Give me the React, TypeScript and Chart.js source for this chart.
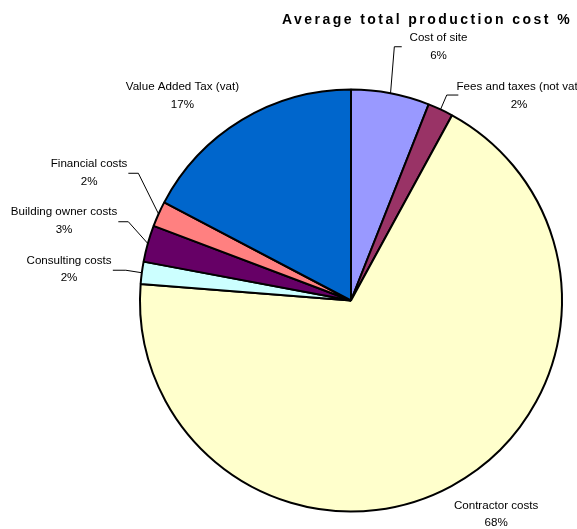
import React, { useEffect, useRef } from "react";
import { Chart, registerables } from "chart.js";

Chart.register(...registerables);

const chartTitle = "Average total production cost %";
const categories = [
  "Cost of site",
  "Fees and taxes (not vat)",
  "Contractor costs",
  "Consulting costs",
  "Building owner costs",
  "Financial costs",
  "Value Added Tax (vat)",
];
const shares = [6.0, 1.95, 68.3, 1.7, 2.8, 1.95, 17.3];
const sliceColors = [
  "#9999FF",
  "#993366",
  "#FFFFCC",
  "#CCFFFF",
  "#660066",
  "#FF8080",
  "#0066CC",
];

// label layout relative to the outer midpoint of each slice
const labelLayout: Array<{ dx: number; dy: number; leader?: [number, number, number] }> = [
  { dx: 48, dy: -55, leader: [3.8, -46.5, 7.4] },
  { dx: 78.5, dy: -22.7, leader: [6.2, -14.4, 11.6] },
  { dx: 44.6, dy: 19.6 },
  { dx: -72.8, dy: -12.4, leader: [-16, -2.5, -13] },
  { dx: -83.8, dy: -31.8, leader: [-19.5, -21.8, -10] },
  { dx: -69.5, dy: -49.7, leader: [-20.2, -40.7, -10] },
  { dx: -59.5, dy: -33.1 },
];

const labelPlugin = {
  id: "pieLabels",
  afterDraw(chart: any) {
    const ctx = chart.ctx as CanvasRenderingContext2D;
    const meta = chart.getDatasetMeta(0);
    const data = chart.data.datasets[0].data as number[];
    const total = data.reduce((a, b) => a + b, 0);
    ctx.save();
    // title
    ctx.font = "bold 14px 'Liberation Sans', Arial, sans-serif";
    (ctx as any).letterSpacing = "2.45px";
    ctx.fillStyle = "#000";
    ctx.textAlign = "left";
    ctx.textBaseline = "alphabetic";
    ctx.fillText(chartTitle, 282, 24);
    (ctx as any).letterSpacing = "0px";

    ctx.font = "11.6px 'Liberation Sans', Arial, sans-serif";
    ctx.textAlign = "center";
    ctx.textBaseline = "middle";
    ctx.strokeStyle = "#000";
    ctx.lineWidth = 1;
    meta.data.forEach((arc: any, i: number) => {
      const { x, y, startAngle, endAngle, outerRadius } = arc.getProps(
        ["x", "y", "startAngle", "endAngle", "outerRadius"],
        true
      );
      const mid = (startAngle + endAngle) / 2;
      const ax = x + Math.cos(mid) * outerRadius;
      const ay = y + Math.sin(mid) * outerRadius;
      const lay = labelLayout[i];
      if (lay.leader) {
        const [ex, ey, hx] = lay.leader;
        ctx.beginPath();
        ctx.moveTo(ax, ay);
        ctx.lineTo(ax + ex, ay + ey);
        ctx.lineTo(ax + ex + hx, ay + ey);
        ctx.stroke();
      }
      const tx = ax + lay.dx;
      const ty = ay + lay.dy;
      ctx.fillText(String(chart.data.labels[i]), tx, ty);
      ctx.fillText(Math.round((data[i] / total) * 100) + "%", tx, ty + 17.6);
    });
    ctx.restore();
  },
};

export default function App() {
  const canvasRef = useRef<HTMLCanvasElement | null>(null);
  useEffect(() => {
    document.body.style.margin = "0";
    const canvas = canvasRef.current!;
    const chart = new Chart(canvas, {
      type: "pie",
      data: {
        labels: categories,
        datasets: [
          {
            data: shares,
            backgroundColor: sliceColors,
            borderColor: "#000",
            borderWidth: 2,
            radius: 211,
          },
        ],
      },
      options: {
        responsive: false,
        animation: false,
        layout: { padding: { left: 130, right: 5, top: 80, bottom: 8 } },
        plugins: {
          legend: { display: false },
          title: { display: false },
          tooltip: { enabled: false },
        },
      },
      plugins: [labelPlugin],
    });
    return () => chart.destroy();
  }, []);
  return (
    <div style={{ width: 577, height: 529, background: "#fff" }}>
      <canvas ref={canvasRef} width={577} height={529} />
    </div>
  );
}
